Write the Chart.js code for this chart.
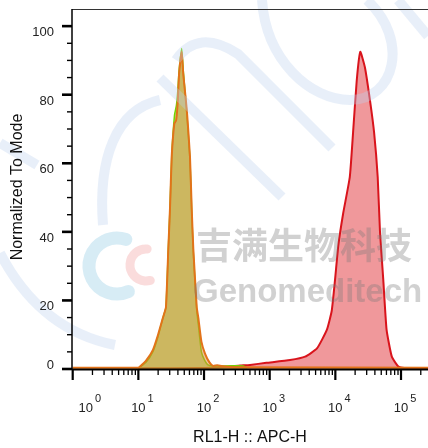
<!DOCTYPE html>
<html>
<head>
<meta charset="utf-8">
<script src="https://cdn.jsdelivr.net/npm/chart.js@4.4.0/dist/chart.umd.min.js"></script>
<style>
  html, body { margin: 0; padding: 0; background: #fff; }
  canvas { display: block; }
</style>
</head>
<body>
<canvas id="myChart" width="428" height="448"></canvas>
<script>
// histogram bins, x given in decades (log10 of RL1-H), y = % of mode
var redDec   = [1.00, 1.95, 2.30, 2.55, 2.70, 2.95, 3.31, 3.54, 3.72, 3.87, 3.945, 3.995, 4.045, 4.12, 4.22, 4.27, 4.325, 4.38, 4.45, 4.53, 4.59, 4.645, 4.68, 4.73, 4.78, 4.86, 4.96, 5.05, 5.45];
var redVal   = [0.2,  0.3,  0.6,  1.0,  1.2,  1.8,  2.6,  3.6,  6.0,  11.4, 17,    26,    36,    45.5, 56,   69,   84,    92.5, 88,   78,   69,   56,    40,   26,   11.5, 3.6,  0.7,  0.3,  0.3];

var greenDec = [1.00, 1.03, 1.12, 1.22, 1.30, 1.375, 1.42, 1.456, 1.482, 1.508, 1.55, 1.58, 1.60, 1.62, 1.66, 1.684, 1.71, 1.74, 1.786, 1.812, 1.837, 1.889, 1.913, 1.96, 2.01, 2.06, 2.12, 2.60, 2.66];
var greenVal = [0.3,  0.6,  2.0,  5.0,  9.5,  15,    18,   35,    47,    62,    74,   77,   81,   87,   93.5, 87,    81,   74,   61,    46,    34,    17,    13,    5,    2.5,  1.2,  0.9,  0.9,  0.3];

var orangeDec = [0.00, 1.00, 1.03, 1.12, 1.22, 1.30, 1.375, 1.42, 1.456, 1.482, 1.508, 1.547, 1.575, 1.60, 1.62, 1.66, 1.684, 1.71, 1.74, 1.786, 1.812, 1.837, 1.889, 1.913, 1.96, 2.015, 2.08, 2.137, 2.20, 2.30, 2.45, 5.45];
var orangeVal = [0.4,  0.4,  0.8,  2.5,  5.5,  10,   15,    18,   35,    47,    62,    71.5,  72.5,  78,   86,   92.5, 86,    81,   75,   62,    47,    35,    18,    15,    8,    4.5,   2.0,  0.9,   1.1,  0.8,  0.5,  0.4];

var yTicks = [0, 20, 40, 60, 80, 100];
var yMinorStep = 5;
var xDecadeTicks = [0, 1, 2, 3, 4, 5];
var xTitle = 'RL1-H :: APC-H';
var yTitle = 'Normalized To Mode';
var markCn = '吉满生物科技';
var markEn = 'Genomeditech';

function toPoints(dec, val) {
  return dec.map(function (d, i) { return { x: Math.pow(10, d), y: val[i] }; });
}

var FONT = '"Liberation Sans", Arial, sans-serif';

function seg(ctx, x1, y1, x2, y2) {
  ctx.beginPath();
  ctx.moveTo(x1, y1);
  ctx.lineTo(x2, y2);
  ctx.stroke();
}

// faint background logo strokes + company watermark
var watermark = {
  id: 'watermark',
  afterDatasetsDraw: function (chart) {
    var ctx = chart.ctx;
    ctx.save();
    ctx.strokeStyle = 'rgba(190, 210, 238, 0.35)';
    ctx.lineWidth = 10;
    ctx.lineCap = 'butt';
    // top right loop
    ctx.beginPath();
    ctx.moveTo(262, 0);
    ctx.bezierCurveTo(266, 60, 310, 100, 350, 100);
    ctx.bezierCurveTo(395, 100, 410, 40, 367, 0);
    ctx.stroke();
    seg(ctx, 398, 0, 428, 36);
    // diagonal bands
    seg(ctx, 160, 78, 282, 197);
    ctx.beginPath();
    ctx.moveTo(176, 60);
    ctx.quadraticCurveTo(198, 28, 238, 54);
    ctx.lineTo(332, 148);
    ctx.stroke();
    // left arcs
    ctx.beginPath();
    ctx.moveTo(103, 225);
    ctx.bezierCurveTo(98, 160, 115, 110, 160, 100);
    ctx.stroke();
    ctx.beginPath();
    ctx.moveTo(0, 253);
    ctx.quadraticCurveTo(40, 330, 115, 345);
    ctx.stroke();
    seg(ctx, 0, 143, 37, 165);

    // logo
    ctx.lineCap = 'round';
    ctx.strokeStyle = 'rgba(140, 200, 225, 0.35)';
    ctx.lineWidth = 13;
    ctx.beginPath();
    ctx.arc(117, 266, 28, -1.25, 1.15, true);
    ctx.stroke();
    ctx.strokeStyle = 'rgba(240, 140, 140, 0.3)';
    ctx.lineWidth = 9;
    ctx.beginPath();
    ctx.arc(146, 265, 16, -1.5, 1.3, true);
    ctx.stroke();
    // text
    ctx.fillStyle = 'rgba(120, 120, 120, 0.34)';
    ctx.textBaseline = 'middle';
    ctx.textAlign = 'left';
    ctx.font = 'bold 36px "Noto Sans CJK SC"';
    ctx.fillText(markCn, 196, 245);
    ctx.textBaseline = 'alphabetic';
    ctx.font = 'bold 33px ' + FONT;
    ctx.fillText(markEn, 193, 302);
    ctx.restore();
  }
};

var flowAxes = {
  id: 'flowAxes',
  afterDraw: function (chart) {
    var ctx = chart.ctx, a = chart.chartArea;
    var xs = chart.scales.x, ys = chart.scales.y;
    ctx.save();

    // top frame
    ctx.strokeStyle = '#333';
    ctx.lineWidth = 1;
    seg(ctx, a.left, a.top + 0.5, a.right, a.top + 0.5);

    ctx.strokeStyle = '#000';
    // y axis line
    ctx.lineWidth = 1.5;
    seg(ctx, a.left, a.top, a.left, a.bottom + 1);
    // x axis line
    ctx.lineWidth = 2;
    seg(ctx, a.left, a.bottom + 0.5, a.right, a.bottom + 0.5);

    // y ticks
    for (var v = 0; v <= 100; v += yMinorStep) {
      var py = ys.getPixelForValue(v);
      var major = yTicks.indexOf(v) >= 0;
      ctx.lineWidth = major ? 2.6 : 1.4;
      seg(ctx, a.left - (major ? 10 : 5), py, a.left, py);
    }
    ctx.fillStyle = '#222';
    ctx.font = '13px ' + FONT;
    ctx.textAlign = 'right';
    ctx.textBaseline = 'alphabetic';
    yTicks.forEach(function (t) {
      var py = ys.getPixelForValue(t);
      ctx.fillText(String(t), 54, t === 0 ? py : py + 10);
    });

    // x ticks (log)
    xDecadeTicks.concat([6]).forEach(function (n) {
      for (var m = 1; m <= 9; m++) {
        var val = m * Math.pow(10, n);
        if (val < xs.min || val > xs.max) continue;
        var px = xs.getPixelForValue(val);
        var major = m === 1;
        ctx.lineWidth = major ? 2.2 : 1.3;
        seg(ctx, px, a.bottom, px, a.bottom + (major ? 11 : 6));
      }
    });
    xDecadeTicks.forEach(function (n) {
      var px = xs.getPixelForValue(Math.pow(10, n));
      if (n === 0) px += 13;
      ctx.font = '13px ' + FONT;
      ctx.textAlign = 'center';
      var w = ctx.measureText('10').width;
      ctx.fillText('10', px, 412);
      ctx.font = '11px ' + FONT;
      ctx.textAlign = 'left';
      ctx.fillText(String(n), px + w / 2 + 2, 402);
    });

    // axis titles
    ctx.fillStyle = '#111';
    ctx.font = '16px ' + FONT;
    ctx.textAlign = 'center';
    ctx.fillText(xTitle, (a.left + a.right) / 2, 442);
    ctx.translate(21.5, (a.top + a.bottom) / 2 - 2);
    ctx.rotate(-Math.PI / 2);
    ctx.fillText(yTitle, 0, 0);

    ctx.restore();
  }
};

var ctx = document.getElementById('myChart').getContext('2d');

new Chart(ctx, {
  type: 'line',
  data: {
    datasets: [
      {
        label: 'APC stained',
        data: toPoints(redDec, redVal),
        borderColor: '#d9141c',
        backgroundColor: 'rgba(225, 50, 55, 0.5)',
        borderWidth: 2,
        fill: 'origin',
        order: 3
      },
      {
        label: 'Unstained',
        data: toPoints(greenDec, greenVal),
        borderColor: '#72d400',
        backgroundColor: 'rgba(120, 200, 20, 0.5)',
        borderWidth: 1.5,
        fill: 'origin',
        order: 2
      },
      {
        label: 'Isotype',
        data: toPoints(orangeDec, orangeVal),
        borderColor: '#e2731a',
        backgroundColor: 'rgba(222, 140, 56, 0.5)',
        borderWidth: 2,
        fill: 'origin',
        order: 1
      }
    ]
  },
  options: {
    responsive: false,
    animation: false,
    layout: { padding: { left: 72, top: 9, right: 0, bottom: 79 } },
    elements: { point: { radius: 0 }, line: { tension: 0.15 } },
    scales: {
      x: { type: 'logarithmic', display: false, min: Math.pow(10, -0.0107), max: Math.pow(10, 5.411) },
      y: { type: 'linear', display: false, min: 0, max: 105 }
    },
    plugins: { legend: { display: false }, tooltip: { enabled: false } }
  },
  plugins: [watermark, flowAxes]
});
</script>
</body>
</html>
